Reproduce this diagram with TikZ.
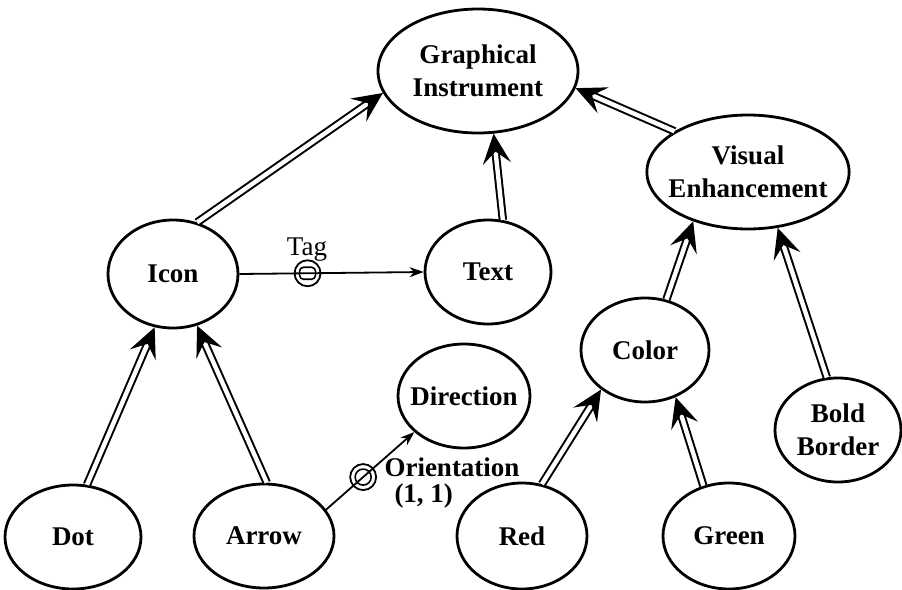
\documentclass[tikz,border=0pt]{standalone}
\usepackage{fontspec}
\setmainfont{Liberation Serif}
\usetikzlibrary{arrows.meta,shapes.geometric}

\begin{document}
\begin{tikzpicture}[x=0.5pt, y=-0.5pt,
    font=\fontsize{13.5}{16.5}\selectfont\bfseries,
    concept/.style={ellipse, draw, line width=1.4pt, inner xsep=-4pt, inner ysep=0pt, align=center},
    isa/.style={double, double distance=2.2pt, line width=1pt,
        -{Stealth[length=15pt, width=14pt, inset=6pt]}},
    rel/.style={line width=0.9pt, -{Stealth[length=7pt, width=5pt]}},
    ring/.style={circle, draw, line width=0.9pt, inner sep=0pt, minimum size=13pt}]
\useasboundingbox (0,0) rectangle (902,590);

% top
\node[concept, minimum width=100pt, minimum height=62pt] (instrument) at (478,71) {Graphical\\Instrument};
\node[concept, minimum width=100pt, minimum height=57pt] (enhancement) at (748,172) {Visual\\Enhancement};

% middle
\node[concept, minimum width=65pt, minimum height=54pt] (icon) at (173,274) {Icon};
\node[concept, minimum width=63pt, minimum height=52pt] (text) at (488,272) {Text};
\node[concept, minimum width=64pt, minimum height=52pt] (color) at (645,350) {Color};
\node[concept, minimum width=66pt, minimum height=52pt] (direction) at (464,396) {Direction};
\node[concept, minimum width=63pt, minimum height=52pt] (bold) at (838,430) {Bold\\Border};

% bottom
\node[concept, minimum width=68pt, minimum height=52pt] (dot) at (73,537) {Dot};
\node[concept, minimum width=70pt, minimum height=52pt] (arrow) at (264,536) {Arrow};
\node[concept, minimum width=65pt, minimum height=53pt] (red) at (522,536) {Red};
\node[concept, minimum width=66pt, minimum height=53pt] (green) at (729,536) {Green};

% is-a links
\draw[isa] (icon.65) -- (instrument.193);
\draw[isa] (text.74) -- (instrument.284);
\draw[isa] (enhancement.151) -- (instrument.350);
\draw[isa] (dot.75) -- (icon.251);
\draw[isa] (arrow.87) -- (icon.295);
\draw[isa] (color.67) -- (enhancement.222);
\draw[isa] (bold.102) -- (enhancement.298);
\draw[isa] (red.69) -- (color.222);
\draw[isa] (green.117) -- (color.303);

% relations
\draw[rel] (icon.east) -- coordinate[pos=0.37] (tagpos) (text.west);
\node[ring] (tagring) at (tagpos) {};
\node[draw, line width=0.8pt, rounded corners=2pt, inner sep=0pt,
    minimum width=8pt, minimum height=6pt] (tagbox) at (tagpos) {};
\node[font=\fontsize{13.5}{16.5}\selectfont] (taglabel) at (307,250) {Tag};

\draw[rel] (arrow.23) -- coordinate[pos=0.42] (orientpos) (direction.216);
\node[ring] (orientring) at (orientpos) {};
\node[circle, draw, line width=0.8pt, inner sep=0pt, minimum size=8pt] (orientdot) at (orientpos) {};
\node[align=left, font=\fontsize{13.5}{13}\selectfont\bfseries] (orientlabel) at (452,483)
    {Orientation\\\hspace*{5pt}(1, 1)};
\end{tikzpicture}
\end{document}
